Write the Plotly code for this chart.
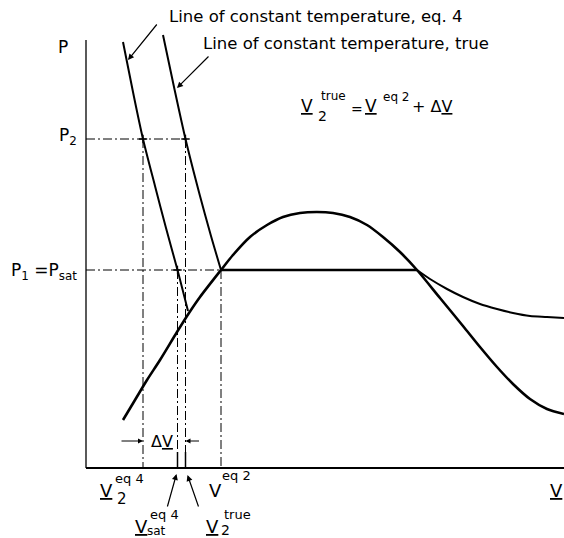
import plotly.graph_objects as go

# ---------------- data (V and P in arbitrary units) ----------------
iso_eq4_V = [0.37, 0.47, 0.57, 0.69, 0.80, 0.915, 1.02]
iso_eq4_P = [4.26, 3.76, 3.29, 2.82, 2.40, 1.98, 1.57]

iso_true_liq_V = [0.77, 0.88, 0.995, 1.14, 1.25, 1.35]
iso_true_liq_P = [4.33, 3.81, 3.29, 2.72, 2.32, 1.98]
iso_true_vap_V = [3.31, 3.44, 3.61, 3.77, 3.94, 4.11, 4.27, 4.44, 4.61, 4.78]
iso_true_vap_P = [1.98, 1.89, 1.79, 1.71, 1.64, 1.59, 1.55, 1.52, 1.51, 1.50]

dome_V = [0.37, 0.49, 0.61, 0.74, 0.91, 1.03, 1.14, 1.35, 1.47, 1.64, 1.81, 1.97, 2.14,
          2.31, 2.47, 2.64, 2.81, 2.97, 3.14, 3.31, 3.54, 3.77, 3.94, 4.11, 4.27, 4.44,
          4.61, 4.78]
dome_P = [0.48, 0.68, 0.88, 1.08, 1.36, 1.55, 1.71, 1.98, 2.13, 2.31, 2.43, 2.51, 2.55,
          2.56, 2.55, 2.51, 2.43, 2.31, 2.16, 1.98, 1.70, 1.42, 1.21, 1.01, 0.84, 0.69,
          0.59, 0.54]

P1 = 1.98        # P1 = Psat
P2 = 3.29
V2_eq4 = 0.57
Vsat_eq4 = 0.915
V2_true = 0.995
V_eq2 = 1.35
V_vap = 3.31
P_top = 4.28
V_end = 4.78

# ---------------- geometry ----------------
W, H = 564, 538
ML, MR, MT, MB = 81, 0, 30, 65
XR = [-0.05, 4.78]
YR = [-0.05, 4.38]
PW = W - ML - MR
PH = H - MT - MB
FONT = "DejaVu Sans"


def d2px(v):
    return ML + (v - XR[0]) / (XR[1] - XR[0]) * PW


def d2py(p):
    return MT + (YR[1] - p) / (YR[1] - YR[0]) * PH


def txt(s, x, y, size=14, xa="center", ya="middle"):
    return dict(text=s, x=(x - ML) / PW, y=(H - MB - y) / PH, xref="paper", yref="paper",
                showarrow=False, xanchor=xa, yanchor=ya,
                font=dict(size=size, family=FONT, color="black"))


def arr(hx, hy, tx, ty, head=2, w=1.2):
    return dict(text="", x=(hx - ML) / PW, y=(H - MB - hy) / PH, xref="paper", yref="paper",
                showarrow=True, ax=tx - hx, ay=ty - hy, axref="pixel", ayref="pixel",
                arrowhead=head, arrowsize=1, arrowwidth=w, arrowcolor="black", standoff=0)


fig = go.Figure()
DASH = "9px,3px,2px,3px"


def line(x, y, width=1.0, dash="solid", shape="linear"):
    fig.add_trace(go.Scatter(x=x, y=y, mode="lines", hoverinfo="skip", showlegend=False,
                             line=dict(color="black", width=width, dash=dash, shape=shape,
                                       smoothing=0.8 if shape == "spline" else None)))


# dashed guide lines
line([0, V2_true], [P2, P2], 1, DASH)
line([0, V_eq2], [P1, P1], 1, DASH)
line([V2_eq4, V2_eq4], [P2, 0], 1, DASH)
line([V2_true, V2_true], [P2, 0], 1, DASH)
line([Vsat_eq4, Vsat_eq4], [P1, 0], 1, DASH)
line([V_eq2, V_eq2], [P1, 0], 1, DASH)
# short solid ticks on the axis
line([Vsat_eq4, Vsat_eq4], [0, 0.16], 1.5)
line([V2_true, V2_true], [0, 0.16], 1.5)

# axes
line([0, 0], [0, P_top], 1.3)
line([0, V_end], [0, 0], 2)

# curves
line(dome_V, dome_P, 2.6, shape="spline")
line(iso_eq4_V, iso_eq4_P, 2.0, shape="spline")
line(iso_true_liq_V, iso_true_liq_P, 2.0, shape="spline")
line([V_eq2, V_vap], [P1, P1], 2.6)
line(iso_true_vap_V, iso_true_vap_P, 2.0, shape="spline")

# small cross marks
fig.add_trace(go.Scatter(x=[V2_eq4, V2_true, Vsat_eq4], y=[P2, P2, P1], mode="markers",
                         hoverinfo="skip", showlegend=False,
                         marker=dict(symbol="cross-thin", size=6, line=dict(color="black", width=1.3))))

ann = []
# header texts & pointer arrows
ann.append(txt("Line of constant temperature, eq. 4", 167, 16, 16.5, xa="left"))
ann.append(txt("Line of constant temperature, true", 201, 43, 16.5, xa="left"))
ann.append(arr(128, 60, 158, 23))
ann.append(arr(177, 88, 210, 55))

# equation
ann.append(txt("<u>V</u>", 307, 106, 17))
ann.append(txt("true", 319, 96, 12, xa="left"))
ann.append(txt("2", 322, 116, 14))
ann.append(txt("=", 357, 109, 14))
ann.append(txt("<u>V</u>", 371, 106, 17))
ann.append(txt("eq 2", 381, 97, 12, xa="left"))
ann.append(txt("+ Δ<u>V</u>", 410, 106, 16, xa="left"))

# y labels
ann.append(txt("P", 63, 47, 17))
ann.append(txt("P<sub>2</sub>", 79, d2py(P2) - 3, 17, xa="right"))
ann.append(txt("P<sub>1</sub> =P<sub>sat</sub>", 79, d2py(P1) + 1, 17, xa="right"))

# delta V dimension
yd = 441
ann.append(arr(d2px(V2_eq4), yd, d2px(V2_eq4) - 23, yd, head=2, w=1))
ann.append(arr(d2px(V2_true), yd, d2px(V2_true) + 15, yd, head=2, w=1))
ann.append(txt("Δ<u>V</u>", 162, yd, 16))

# x labels
ann.append(txt("<u>V</u>", 106, 490, 18))
ann.append(txt("eq 4", 129, 478, 13))
ann.append(txt("2", 122, 499, 15))

ann.append(txt("V", 215, 490, 18))
ann.append(txt("eq 2", 236, 476, 13))

ann.append(txt("<u>V</u>", 141, 526, 18))
ann.append(txt("eq 4", 164, 514, 13))
ann.append(txt("sat", 156, 531, 12))
ann.append(arr(d2px(Vsat_eq4) - 1, 474, 167, 508))

ann.append(txt("<u>V</u>", 212, 526, 18))
ann.append(txt("true", 237, 514, 13))
ann.append(txt("2", 225, 530, 14))
ann.append(arr(d2px(V2_true) + 2, 475, 199, 508))

ann.append(txt("<u>V</u>", 556, 490, 18))

fig.update_layout(
    width=W, height=H,
    margin=dict(l=ML, r=MR, t=MT, b=MB, pad=0),
    paper_bgcolor="white", plot_bgcolor="white",
    xaxis=dict(range=XR, visible=False, fixedrange=True),
    yaxis=dict(range=YR, visible=False, fixedrange=True),
    annotations=ann,
    showlegend=False,
)

fig.write_html("out.html", config={"displayModeBar": False},
               post_script="document.body.style.margin='0';")
